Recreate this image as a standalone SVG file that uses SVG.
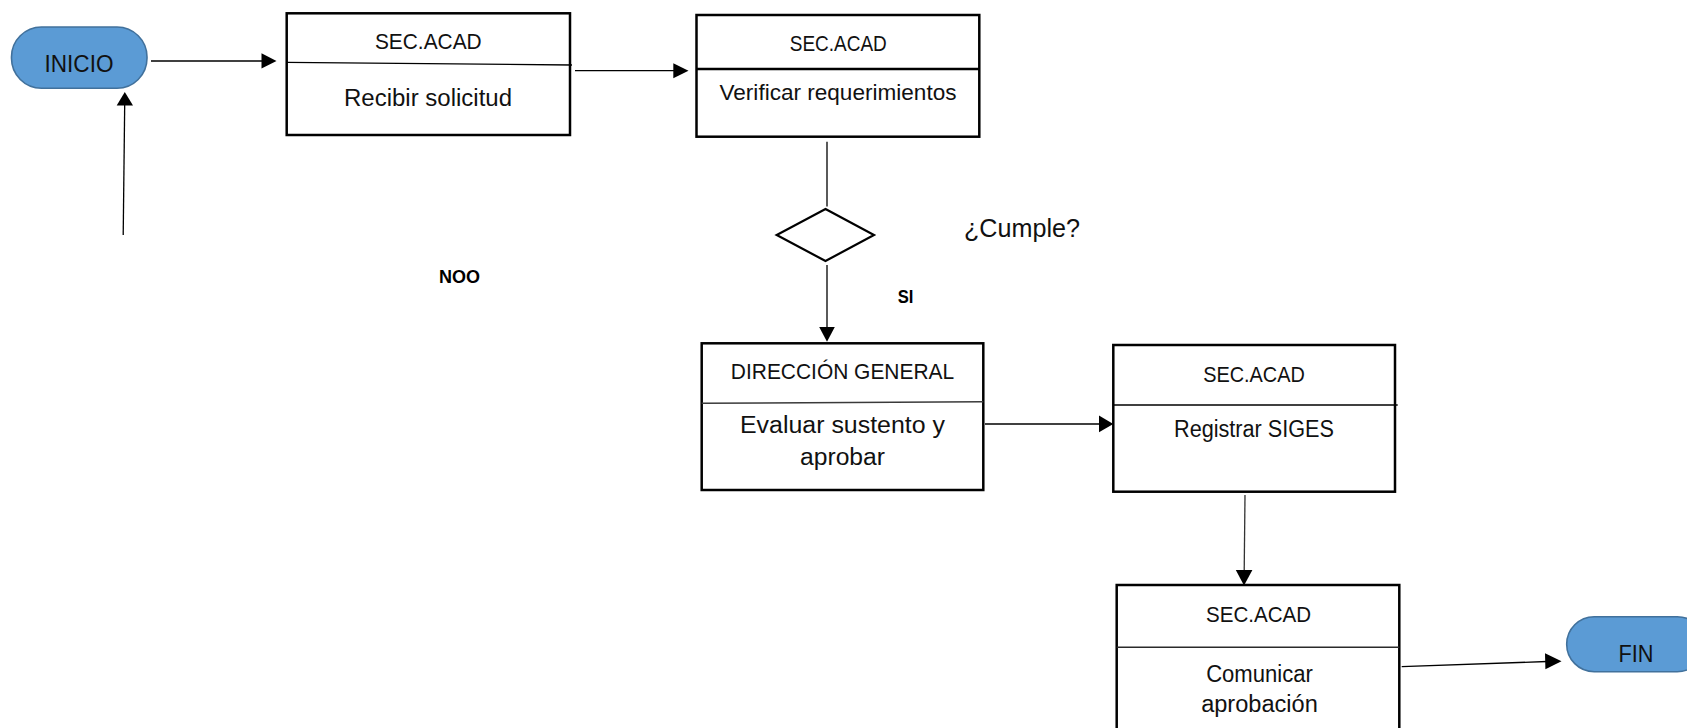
<svg xmlns="http://www.w3.org/2000/svg" width="1687" height="728" viewBox="0 0 1687 728">
  <style>
    .bg { fill: #ffffff; }
    .box { fill: #ffffff; stroke: #000000; stroke-width: 2.5; }
    .div { stroke: #000000; stroke-width: 1.3; fill: none; }
    .pill { fill: #5b9bd5; stroke: #41719c; stroke-width: 1.6; }
    .dia { fill: #ffffff; stroke: #000000; stroke-width: 2.2; }
    .ln { stroke: #000000; stroke-width: 1.3; fill: none; }
    .ah { fill: #000000; stroke: none; }
    .t { font-family: "Liberation Sans", Arial, sans-serif; fill: #111111; text-anchor: middle; }
    .tl { font-family: "Liberation Sans", Arial, sans-serif; fill: #111111; }
    .b { font-family: "Liberation Sans", Arial, sans-serif; font-weight: bold; fill: #000000; }
  </style>
  <rect class="bg" x="0" y="0" width="1687" height="728"/>

  <g id="connectors">
    <line class="ln" x1="123.2" y1="235" x2="124.7" y2="104"/>
    <polygon class="ah" points="124.8,92 116.7,105.5 133,105.5"/>
    <line class="ln" x1="151" y1="61" x2="263" y2="61"/>
    <polygon class="ah" points="276.5,61 261.5,53.3 261.5,68.5"/>
    <line class="ln" x1="575" y1="70.7" x2="675" y2="70.7"/>
    <polygon class="ah" points="688.5,70.7 673.3,63.2 673.3,78.3"/>
    <line class="ln" x1="827" y1="141.7" x2="827" y2="206.5"/>
    <line class="ln" x1="827" y1="265" x2="827" y2="329"/>
    <polygon class="ah" points="827,341.8 819.2,327 834.8,327"/>
    <line class="ln" x1="985" y1="424" x2="1100" y2="424"/>
    <polygon class="ah" points="1113.3,424 1099,415.6 1099,432.2"/>
    <line class="ln" x1="1245" y1="495" x2="1244.2" y2="572" style="stroke:#333"/>
    <polygon class="ah" points="1244,585.5 1235.8,570 1252.4,570"/>
    <line class="ln" x1="1401.7" y1="666.7" x2="1547" y2="661.5"/>
    <polygon class="ah" points="1561.5,661.3 1545,653.3 1545.4,669.2"/>
  </g>

  <g id="inicio">
    <rect class="pill" x="11.5" y="27" width="135.5" height="61.3" rx="30" ry="30"/>
    <text class="t" x="79" y="72" font-size="24" textLength="69" lengthAdjust="spacingAndGlyphs">INICIO</text>
  </g>

  <g id="recibir">
    <rect class="box" x="286.7" y="13.3" width="283.3" height="121.7"/>
    <line class="div" x1="286.7" y1="62.3" x2="572" y2="65"/>
    <text class="t" x="428.3" y="49.3" font-size="22.5" textLength="106.7" lengthAdjust="spacingAndGlyphs">SEC.ACAD</text>
    <text class="t" x="428" y="106" font-size="23" textLength="168" lengthAdjust="spacingAndGlyphs">Recibir solicitud</text>
  </g>

  <g id="verificar">
    <rect class="box" x="696.5" y="15" width="282.8" height="121.7"/>
    <line class="div" x1="696.5" y1="69" x2="979.3" y2="69" style="stroke-width:2.4"/>
    <text class="t" x="838.3" y="51" font-size="21.5" textLength="97" lengthAdjust="spacingAndGlyphs">SEC.ACAD</text>
    <text class="t" x="838" y="100" font-size="22" textLength="237" lengthAdjust="spacingAndGlyphs">Verificar requerimientos</text>
  </g>

  <g id="decision">
    <polygon class="dia" points="825.5,209 874,235 825.5,261 776.7,235"/>
    <text class="tl" x="964" y="236.7" font-size="25.5" textLength="116" lengthAdjust="spacingAndGlyphs">¿Cumple?</text>
  </g>

  <g id="label-noo">
    <text class="b" x="439" y="283.3" font-size="18" textLength="41" lengthAdjust="spacingAndGlyphs">NOO</text>
  </g>

  <g id="label-si">
    <text class="b" x="897.7" y="303.3" font-size="17.5" textLength="15.7" lengthAdjust="spacingAndGlyphs">SI</text>
  </g>

  <g id="direccion">
    <rect class="box" x="701.7" y="343.3" width="281.6" height="146.7"/>
    <line class="div" x1="701.7" y1="403.3" x2="983.3" y2="401.7" style="stroke:#3a3a3a;stroke-width:1.5"/>
    <text class="t" x="842.5" y="379.3" font-size="22.5" textLength="223.3" lengthAdjust="spacingAndGlyphs">DIRECCIÓN GENERAL</text>
    <text class="t" x="842.5" y="433.3" font-size="23" textLength="205" lengthAdjust="spacingAndGlyphs">Evaluar sustento y</text>
    <text class="t" x="842.5" y="465" font-size="23" textLength="85" lengthAdjust="spacingAndGlyphs">aprobar</text>
  </g>

  <g id="registrar">
    <rect class="box" x="1113.3" y="345" width="281.7" height="146.7"/>
    <line class="div" x1="1113.3" y1="405" x2="1397.7" y2="405" style="stroke-width:1.5"/>
    <text class="t" x="1254" y="381.7" font-size="22.5" textLength="101.7" lengthAdjust="spacingAndGlyphs">SEC.ACAD</text>
    <text class="t" x="1254" y="436.7" font-size="23" textLength="160" lengthAdjust="spacingAndGlyphs">Registrar SIGES</text>
  </g>

  <g id="comunicar">
    <rect class="box" x="1116.7" y="585" width="282.6" height="170"/>
    <line class="div" x1="1116.7" y1="647.3" x2="1399.3" y2="647.3" style="stroke:#2a2a2a;stroke-width:1.5"/>
    <text class="t" x="1258.5" y="621.7" font-size="22.5" textLength="105" lengthAdjust="spacingAndGlyphs">SEC.ACAD</text>
    <text class="t" x="1259.5" y="681.7" font-size="23" textLength="106.7" lengthAdjust="spacingAndGlyphs">Comunicar</text>
    <text class="t" x="1259.5" y="711.7" font-size="23" textLength="116.7" lengthAdjust="spacingAndGlyphs">aprobación</text>
  </g>

  <g id="fin">
    <rect class="pill" x="1566.7" y="616.7" width="138" height="55" rx="27.5" ry="27.5"/>
    <text class="t" x="1636" y="661.7" font-size="24" textLength="35" lengthAdjust="spacingAndGlyphs">FIN</text>
  </g>
</svg>
